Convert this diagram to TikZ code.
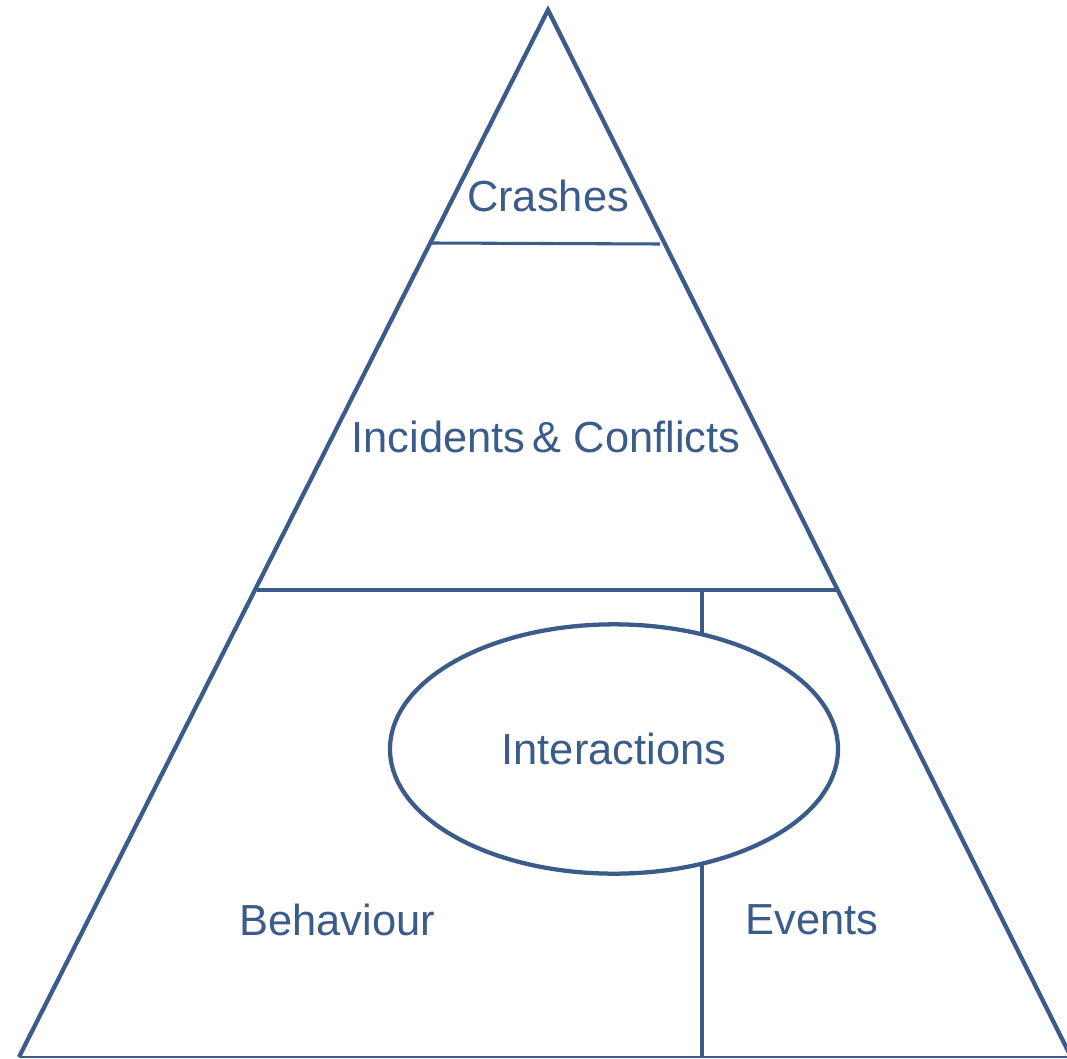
\documentclass[tikz,border=0pt]{standalone}
\usepackage{fontspec}
\setmainfont{Liberation Sans}
\usetikzlibrary{positioning, shapes.geometric}
\definecolor{pyramid}{RGB}{59,91,139}

\begin{document}
\begin{tikzpicture}[x=0.75pt, y=-0.75pt,
        level/.style={font=\fontsize{32.6}{38}\selectfont, text=pyramid},
        edge/.style={draw=pyramid, line width=3.2pt, line join=miter},
        tier/.style={draw=pyramid, line width=2.3pt}]
        \useasboundingbox (0,0) rectangle (1067,1059);

        % Pyramid corners
        \coordinate (apex) at (548,10);
        \coordinate (baseL) at (19,1057);
        \coordinate (baseR) at (1071,1057);

        % Outline
        \draw[edge] (baseL) -- (apex) -- (baseR);
        \draw[draw=pyramid, line width=1.6pt] (baseL) -- (baseR);

        % Tier dividers
        \coordinate (topL) at (432,243);
        \coordinate (topR) at (660,244);
        \coordinate (midL) at (257,590);
        \coordinate (midR) at (838,590);
        \draw[tier] (topL) -- (topR);
        \draw[tier] (midL) -- (midR);

        % Labels
        \node[level] (crash) at (548,196) {Crashes};
        \node[level] (incid) at (546,437) {Incidents\,\& Conflicts};

        % Interactions ellipse
        \node[ellipse, draw=pyramid, line width=3.2pt, minimum width=336pt, minimum height=187pt,
              inner sep=0pt, outer sep=0pt, level] (inter) at (614,749) {Interactions};

        \node[level] (behav) at (337,920) {Behaviour};
        \node[level] (event) at (812,920) {Events};

        % Split between behaviour and events
        \coordinate (divtop) at (702,590);
        \coordinate (divbot) at (702,1057);
        \draw[tier] (divtop) -- (inter.52.6 -| divtop);
        \draw[tier] (inter.-52.6 -| divbot) -- (divbot);
\end{tikzpicture}
\end{document}
